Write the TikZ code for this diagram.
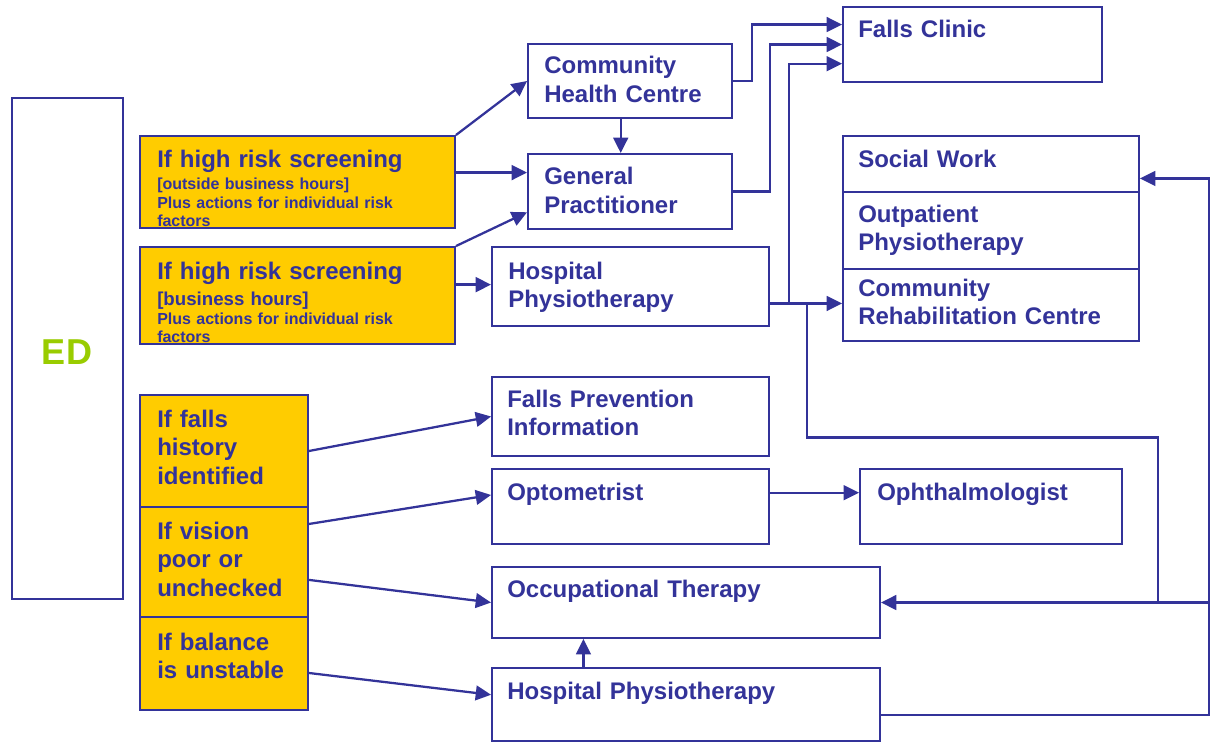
\documentclass[tikz,border=0pt]{standalone}
\usepackage{fontspec}
\setmainfont{Liberation Sans}
\usetikzlibrary{arrows.meta,calc,fit}
\definecolor{navy}{HTML}{333399}
\definecolor{gold}{HTML}{FFCC00}
\definecolor{lime}{HTML}{99CC00}
\begin{document}
\begin{tikzpicture}[x=0.75pt,y=-0.75pt,
  bx/.style={draw=navy,line width=1.4pt,inner sep=0pt,fill=white},
  ybx/.style={bx,fill=gold},
  txt/.style={anchor=base west,inner sep=0pt,text=navy,align=left,text width=260pt,
    font=\fontsize{18}{21.5}\selectfont\bfseries},
  smalltxt/.style={txt,font=\fontsize{12}{13.8}\selectfont\bfseries},
  midtxt/.style={txt,font=\fontsize{14}{16}\selectfont\bfseries},
  ln/.style={draw=navy,line width=1.7pt},
  arr/.style={ln,-{Triangle[length=11.5pt,width=11pt]}}]
\useasboundingbox (0,0) rectangle (1211,742);
% boxes
\node[bx,fit={(12,98) (123,599)}] (ed) {};
\node[ybx,fit={(140,136) (455,228)}] (y1) {};
\node[ybx,fit={(140,247) (455,344)}] (y2) {};
\node[ybx,fit={(140,395) (308,507)}] (ys1) {};
\node[ybx,fit={(140,507) (308,617)}] (ys2) {};
\node[ybx,fit={(140,617) (308,710)}] (ys3) {};
\node[bx,fit={(528,44) (732,118)}] (chc) {};
\node[bx,fit={(528,154) (732,229)}] (gp) {};
\node[bx,fit={(492,247) (769,326)}] (hp1) {};
\node[bx,fit={(843,7) (1102,82)}] (fc) {};
\node[bx,fit={(843,136) (1139,192)}] (sw) {};
\node[bx,fit={(843,192) (1139,269)}] (op) {};
\node[bx,fit={(843,269) (1139,341)}] (crc) {};
\node[bx,fit={(492,377) (769,456)}] (fpi) {};
\node[bx,fit={(492,469) (769,544)}] (opt) {};
\node[bx,fit={(860,469) (1122,544)}] (oph) {};
\node[bx,fit={(492,567) (880,638)}] (ot) {};
\node[bx,fit={(492,668) (880,741)}] (hp2) {};
% texts
\node[inner sep=0pt,text=lime,font=\fontsize{27}{30}\selectfont\bfseries] (edt) at (67,352) {ED};
\node[txt] (y1t) at (157,167) {If high risk screening};
\node[smalltxt] (y1s) at (157,190) {[outside business hours]\\Plus actions for individual risk\\factors};
\node[txt] (y2t) at (157,279) {If high risk screening};
\node[midtxt] (y2m) at (157,305) {[business hours]};
\node[smalltxt] (y2s) at (157,324) {Plus actions for individual risk\\factors};
\node[txt] (ys1t) at (157,427) {If falls\\history\\identified};
\node[txt] (ys2t) at (157,539) {If vision\\poor or\\unchecked};
\node[txt] (ys3t) at (157,650) {If balance\\is unstable};
\node[txt] (fct) at (858,38) {Falls Clinic};
\node[txt] (chct) at (544,74) {Community\\Health Centre};
\node[txt] (gpt) at (544,185) {General\\Practitioner};
\node[txt] (hp1t) at (508,279) {Hospital\\Physiotherapy};
\node[txt] (swt) at (858,167) {Social Work};
\node[txt] (opt2) at (858,222) {Outpatient\\Physiotherapy};
\node[txt] (crct) at (858,296) {Community\\Rehabilitation Centre};
\node[txt] (fpit) at (507,407) {Falls Prevention\\Information};
\node[txt] (optt) at (507,500) {Optometrist};
\node[txt] (otht) at (877,500) {Ophthalmologist};
\node[txt] (ott) at (507,597) {Occupational Therapy};
\node[txt] (hp2t) at (507,699) {Hospital Physiotherapy};
% connectors
\coordinate (rail) at (1209,0);
\draw[arr] (y1.north east) -- (chc.west);
\draw[arr] ($(y1.north east)!0.4!(y1.south east)$) coordinate (a1) -- (a1 -| gp.west);
\draw[arr] (y2.north east) -- ($(gp.north west)!0.77!(gp.south west)$);
\draw[arr] ($(y2.north east)!0.39!(y2.south east)$) coordinate (a2) -- (a2 -| hp1.west);
\draw[arr] ($(chc.south west)!0.455!(chc.south east)$) coordinate (a3) -- (a3 |- gp.north);
\draw[arr] (chc.east) -- ++(19,0) |- ($(fc.north west)!0.24!(fc.south west)$);
\draw[arr] (gp.east) -- ++(37,0) |- (fc.west);
\coordinate (hpx) at ($(hp1.north east)!0.71!(hp1.south east)$);
\draw[arr] (hpx) -- ++(19,0) |- ($(fc.north west)!0.75!(fc.south west)$);
\draw[arr] (hpx) -- (hpx -| crc.west);
\draw[ln] ($(hpx)+(37,0)$) -- ++(0,134) -- ++(351,0) -- ++(0,166);
\draw[arr] (ot.east -| rail) -- (ot.east);
\draw[arr] ($(hp2.north east)!0.64!(hp2.south east)$) coordinate (a4) -- (a4 -| rail) |- ($(sw.north east)!0.75!(sw.south east)$);
\draw[arr] ($(opt.north east)!0.32!(opt.south east)$) coordinate (a5) -- (a5 -| oph.west);
\draw[arr] ($(hp2.north west)!0.237!(hp2.north east)$) coordinate (a6) -- (a6 |- ot.south);
\draw[arr] (ys1.east) -- (fpi.west);
\draw[arr] ($(ys2.north east)!0.16!(ys2.south east)$) -- ($(opt.north west)!0.35!(opt.south west)$);
\draw[arr] ($(ys2.north east)!0.66!(ys2.south east)$) -- (ot.west);
\draw[arr] ($(ys3.north east)!0.6!(ys3.south east)$) -- ($(hp2.north west)!0.37!(hp2.south west)$);
\end{tikzpicture}
\end{document}
